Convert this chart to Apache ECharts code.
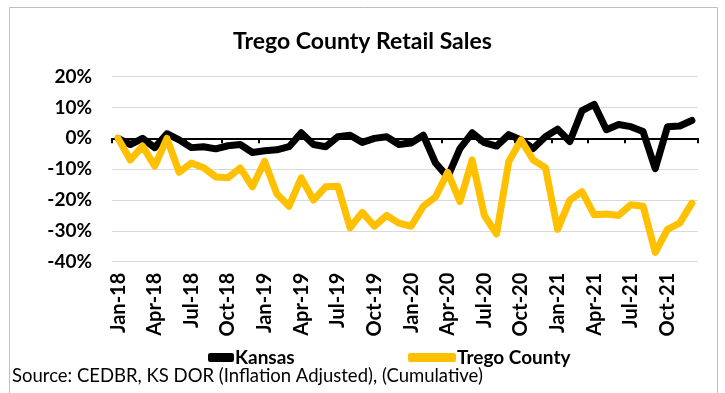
<!DOCTYPE html>
<html>
<head>
<meta charset="utf-8">
<script src="https://cdn.jsdelivr.net/npm/echarts@6/dist/echarts.min.js"></script>
<style>html,body{margin:0;padding:0;background:#fff}#c{width:725px;height:393px}</style>
</head>
<body>
<div id="c"></div>
<script>
const months = ['Jan-18','Feb-18','Mar-18','Apr-18','May-18','Jun-18','Jul-18','Aug-18','Sep-18','Oct-18','Nov-18','Dec-18',
'Jan-19','Feb-19','Mar-19','Apr-19','May-19','Jun-19','Jul-19','Aug-19','Sep-19','Oct-19','Nov-19','Dec-19',
'Jan-20','Feb-20','Mar-20','Apr-20','May-20','Jun-20','Jul-20','Aug-20','Sep-20','Oct-20','Nov-20','Dec-20',
'Jan-21','Feb-21','Mar-21','Apr-21','May-21','Jun-21','Jul-21','Aug-21','Sep-21','Oct-21','Nov-21','Dec-21'];
const kansas = [0,-2,0,-3,1.5,-0.5,-3,-2.7,-3.4,-2.4,-2,-4.6,
-4,-3.7,-2.7,1.8,-2,-2.7,0.5,1,-1.3,0,0.5,-2,
-1.5,1,-8,-12.5,-3.3,1.8,-1.4,-2.5,1.2,-0.5,-3.3,0.5,
3,-1,9,11,2.8,4.5,3.8,2.2,-9.8,3.8,4,5.8];
const trego = [0,-7,-2.5,-9,0,-11,-8,-9.5,-12.5,-12.8,-9.6,-15.7,
-7.5,-18,-22,-12.8,-20,-15.7,-15.5,-29,-24,-28.5,-25,-27.5,
-28.5,-22,-19,-11,-20.5,-7,-25,-31,-7.5,-0.5,-7,-9.5,
-29.5,-20,-17.3,-24.8,-24.5,-25,-21.5,-22,-37,-29.5,-27.5,-21];
const yTicks = {min:-40, max:20, interval:10};

const font = 'Lato';
const chart = echarts.init(document.getElementById('c'));
chart.setOption({
  animation:false,
  backgroundColor:'#fff',
  textStyle:{fontFamily:font},
  graphic:[{type:'rect',shape:{x:9.5,y:7.5,width:708,height:400},style:{fill:'none',stroke:'#bfbfbf',lineWidth:1}},
    {type:'text',left:12,top:367,style:{text:'Source: CEDBR, KS DOR (Inflation Adjusted), (Cumulative)',font:'18.5px '+font,fill:'#000'}}],
  title:{text:'Trego County Retail Sales',left:'center',top:25,textStyle:{fontFamily:font,fontWeight:'bold',fontSize:23,color:'#000'}},
  grid:{left:112,right:27,top:76.7,bottom:131.3},
  legend:[
    {data:['Kansas'],left:203,top:343,itemWidth:26,itemHeight:9,icon:'roundRect',itemGap:2,textStyle:{fontFamily:font,fontWeight:'bold',fontSize:19,color:'#000',padding:[0,0,0,-4]}},
    {data:['Trego County'],left:403,top:343,itemWidth:48,itemHeight:9,icon:'roundRect',textStyle:{fontFamily:font,fontWeight:'bold',fontSize:19,color:'#000',padding:[0,0,0,-4]}}
  ],
  xAxis:[
    {type:'category',data:months,boundaryGap:true,position:'bottom',
     axisLine:{onZero:true,lineStyle:{color:'#000',width:2}},
     axisTick:{show:true,interval:2,length:5,lineStyle:{color:'#000',width:2}},
     axisLabel:{show:false},splitLine:{show:false}},
    {type:'category',data:months,boundaryGap:true,position:'bottom',offset:0,
     axisLine:{show:false,onZero:false},axisTick:{show:false},
     axisLabel:{show:true,interval:2,rotate:90,margin:11,fontFamily:font,fontWeight:'bold',fontSize:20,color:'#000'},splitLine:{show:false}}
  ],
  yAxis:{type:'value',min:yTicks.min,max:yTicks.max,interval:yTicks.interval,
    axisLine:{show:false},axisTick:{show:false},
    axisLabel:{formatter:'{value}%',margin:20,fontFamily:font,fontWeight:'bold',fontSize:19,color:'#000'},
    splitLine:{lineStyle:{color:'#d9d9d9',width:1}}},
  series:[
    {name:'Kansas',type:'line',data:kansas,xAxisIndex:0,symbol:'none',itemStyle:{color:'#000'},
     lineStyle:{color:'#000',width:7,join:'round',cap:'round'}},
    {name:'Trego County',type:'line',data:trego,xAxisIndex:0,symbol:'none',itemStyle:{color:'#FFC000'},
     lineStyle:{color:'#FFC000',width:7,join:'round',cap:'round'}}
  ]
});
</script>
</body>
</html>
